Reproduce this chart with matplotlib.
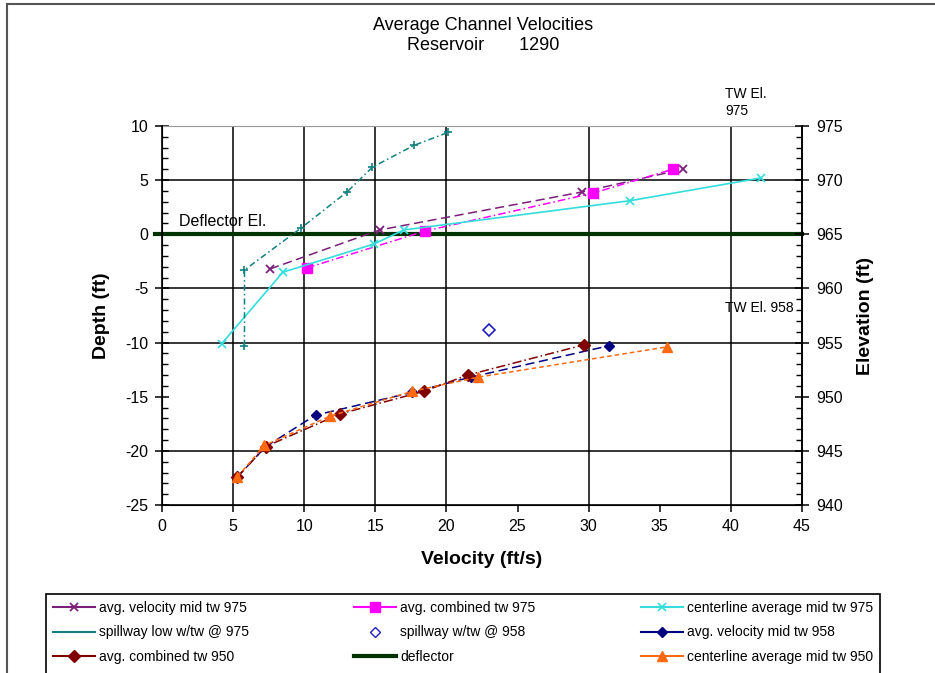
import matplotlib
matplotlib.use("Agg")
import matplotlib.pyplot as plt
from matplotlib.lines import Line2D
from matplotlib.patches import Rectangle
from matplotlib.ticker import MultipleLocator

plt.rcParams['font.family'] = ['Liberation Sans', 'DejaVu Sans']
plt.rcParams['axes.unicode_minus'] = False

# velocity (ft/s) vs depth (ft) relative to deflector elevation 965
vel_mid_975_x = [7.6, 15.3, 29.5, 36.6]
vel_mid_975_y = [-3.2, 0.4, 3.9, 6.0]

comb_975_x = [10.2, 18.5, 30.3, 35.9]
comb_975_y = [-3.1, 0.3, 3.8, 6.0]

cl_975_x = [4.2, 8.5, 14.9, 17.0, 32.9, 42.1]
cl_975_y = [-10.1, -3.5, -0.9, 0.4, 3.1, 5.2]

spill_low_975_x = [5.8, 5.8, 9.8, 13.0, 14.8, 17.7, 20.1]
spill_low_975_y = [-10.3, -3.3, 0.6, 3.9, 6.2, 8.2, 9.4]

spill_958_x = [23.0]
spill_958_y = [-8.8]

vel_mid_958_x = [5.3, 7.3, 10.8, 17.6, 21.7, 31.4]
vel_mid_958_y = [-22.4, -19.6, -16.7, -14.6, -13.2, -10.3]

comb_950_x = [5.3, 7.3, 12.5, 18.4, 21.5, 29.7]
comb_950_y = [-22.4, -19.6, -16.6, -14.5, -13.0, -10.2]

cl_950_x = [5.3, 7.2, 11.8, 17.6, 22.2, 35.5]
cl_950_y = [-22.4, -19.5, -16.8, -14.5, -13.2, -10.4]

deflector_x = [-0.5, 45]
deflector_y = [0, 0]

grid_x = [5, 10, 15, 20, 30, 40]
grid_y = [5, -5, -10, -20]

fig = plt.figure(figsize=(9.35, 6.73), dpi=100)
ax = fig.add_axes([162 / 935, 1 - 505 / 673, 640 / 935, 379 / 673])

for gx in grid_x:
    ax.axvline(gx, color='black', lw=1.1, zorder=1)
for gy in grid_y:
    ax.axhline(gy, color='black', lw=1.1, zorder=1)

ax.plot(deflector_x, deflector_y, color='#003300', lw=3, zorder=2, clip_on=False)

ax.plot(vel_mid_975_x, vel_mid_975_y, color='#7a1f7a', ls=(0, (6, 3)), lw=1.1,
        marker='x', ms=6, mew=1.3, zorder=3)
ax.plot(comb_975_x, comb_975_y, color='#ff00ff', ls=(0, (5, 2, 1, 2)), lw=1.1,
        marker='s', ms=7, zorder=3)
ax.plot(cl_975_x, cl_975_y, color='#33dddd', ls='-', lw=1.2,
        marker='x', ms=6, mew=1.2, zorder=3)
ax.plot(spill_low_975_x, spill_low_975_y, color='#108080', ls=(0, (4, 2, 1, 2)), lw=1.1,
        marker='+', ms=6, mew=1.2, zorder=3)
ax.plot(spill_958_x, spill_958_y, color='#1f1fbf', ls='none',
        marker='D', ms=6, mfc='none', mew=1.2, zorder=3)
ax.plot(vel_mid_958_x, vel_mid_958_y, color='#000080', ls=(0, (6, 3)), lw=1.1,
        marker='D', ms=5, zorder=3)
ax.plot(comb_950_x, comb_950_y, color='#800000', ls=(0, (6, 2, 1, 2)), lw=1.1,
        marker='D', ms=6, zorder=3)
ax.plot(cl_950_x, cl_950_y, color='#ff6a10', ls=(0, (3, 2)), lw=1.1,
        marker='^', ms=7, zorder=3)

ax.set_xlim(0, 45)
ax.set_ylim(-25, 10)
ax.set_xticks(range(0, 46, 5))
ax.set_yticks(range(-25, 11, 5))
ax.yaxis.set_minor_locator(MultipleLocator(1))
ax.tick_params(axis='x', direction='out', length=5, width=1.1, pad=5, labelsize=11.5)
ax.tick_params(axis='y', which='major', direction='inout', length=10, width=1.1,
               pad=5, labelsize=11.5)
ax.tick_params(axis='y', which='minor', direction='in', length=4, width=1)
ax.spines['top'].set_color('#999999')
for s in ['left', 'bottom', 'right']:
    ax.spines[s].set_linewidth(1.2)

ax.set_xlabel('Velocity (ft/s)', fontsize=14, fontweight='bold', labelpad=12)
ax.set_ylabel('Depth (ft)', fontsize=14, fontweight='bold', labelpad=11)

ax2 = ax.twinx()
ax2.set_ylim(940, 975)
ax2.set_yticks(range(940, 976, 5))
ax2.yaxis.set_minor_locator(MultipleLocator(1))
ax2.tick_params(axis='y', which='major', direction='inout', length=10, width=1.1,
                pad=5, labelsize=11.5)
ax2.tick_params(axis='y', which='minor', direction='in', length=4, width=1)
ax2.spines['top'].set_visible(False)
ax2.spines['right'].set_linewidth(1.2)
ax2.set_ylabel('Elevation (ft)', fontsize=14, fontweight='bold', labelpad=10)

ax.text(1.2, 0.5, 'Deflector El.', fontsize=11.5, ha='left', va='bottom')
ax.text(39.6, 13.6, 'TW El.\n975', fontsize=10, ha='left', va='top', linespacing=1.3)
ax.text(39.6, -6.8, 'TW El. 958', fontsize=10, ha='left', va='center')

fig.text(483 / 935, 1 - 25 / 673, 'Average Channel Velocities', fontsize=13,
         ha='center', va='center')
fig.text(483 / 935, 1 - 46 / 673, 'Reservoir       1290', fontsize=13,
         ha='center', va='center')

# legend laid out row by row: matplotlib fills columns, so order by column
handles = {
    'avg. velocity mid tw 975': Line2D([], [], color='#7a1f7a', marker='x', ms=6, mew=1.3),
    'avg. combined tw 975': Line2D([], [], color='#ff00ff', marker='s', ms=7),
    'centerline average mid tw 975': Line2D([], [], color='#33dddd', marker='x', ms=6, mew=1.2),
    'spillway low w/tw @ 975': Line2D([], [], color='#108080'),
    'spillway w/tw @ 958': Line2D([], [], color='#1f1fbf', ls='none', marker='D', ms=5, mfc='none'),
    'avg. velocity mid tw 958': Line2D([], [], color='#000080', marker='D', ms=5),
    'avg. combined tw 950': Line2D([], [], color='#800000', marker='D', ms=6),
    'deflector': Line2D([], [], color='#003300', lw=3),
    'centerline average mid tw 950': Line2D([], [], color='#ff6a10', marker='^', ms=7),
}
order = ['avg. velocity mid tw 975', 'spillway low w/tw @ 975', 'avg. combined tw 950',
         'avg. combined tw 975', 'spillway w/tw @ 958', 'deflector',
         'centerline average mid tw 975', 'avg. velocity mid tw 958',
         'centerline average mid tw 950']
fig.legend([handles[k] for k in order], order, ncol=3, loc='upper left',
           bbox_to_anchor=(46 / 935, -0.03, 834 / 935, 1 - 594 / 673 + 0.03),
           mode='expand', fontsize=10, frameon=False, handlelength=3,
           handletextpad=0.3, borderaxespad=0, labelspacing=0.75, borderpad=0.5,
           columnspacing=1.0)

# legend box runs off the bottom edge
fig.patches.append(Rectangle((46 / 935, -0.05), 834 / 935, 1 - 594 / 673 + 0.05,
                             transform=fig.transFigure, fill=False,
                             edgecolor='black', lw=1.2))
fig.patches.append(Rectangle((7 / 935, -0.02), 1.0, 1 - 4 / 673 + 0.02,
                             transform=fig.transFigure, fill=False,
                             edgecolor='#555555', lw=1.5))

fig.savefig('out.png', dpi=100)
